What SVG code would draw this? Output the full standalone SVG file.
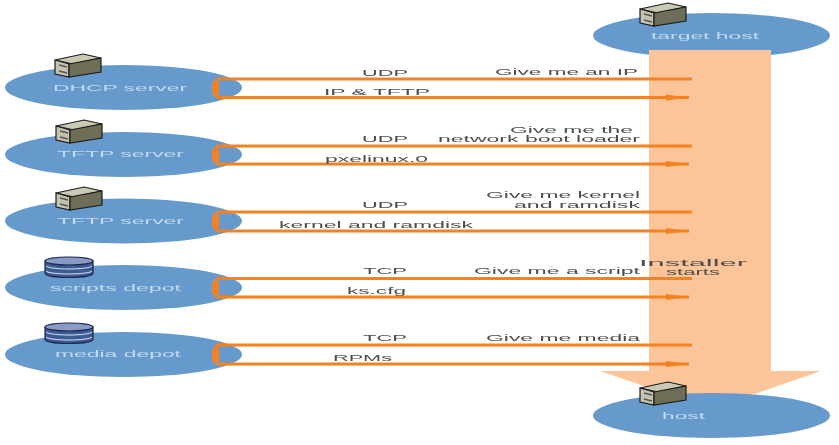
<svg xmlns="http://www.w3.org/2000/svg" width="839" height="445" viewBox="0 0 839 445">
<style>
text{font-family:"Liberation Sans",Arial,sans-serif;font-size:9.5px}
.e{fill:#6699cc}
.n{fill:#c3d9f0}
.l{fill:#4d4d4d}
.c{fill:none;stroke:#f58220;stroke-width:3}
.b{fill:none;stroke:#f58220;stroke-width:3;stroke-linejoin:round}
.t{fill:none;stroke:#f58220;stroke-width:7}
</style>
<defs>
<filter id="s" x="-5%" y="-5%" width="110%" height="110%"><feGaussianBlur stdDeviation="0.45"/></filter>
<marker id="a" markerUnits="userSpaceOnUse" markerWidth="24" markerHeight="8" refX="23" refY="4" orient="auto"><path d="M0 1L23 4L0 7z" fill="#f58220"/></marker>
<g id="srv">
<path d="M0 6L28 0L46 4L18 10z" fill="#c9c9b4" stroke="#1c1c1c" stroke-width="1.2"/>
<path d="M0 6L14 10V23L0 20z" fill="#c4c4ae" stroke="#1c1c1c" stroke-width="1.2"/>
<path d="M14 10L46 4V18L14 23z" fill="#6e6e58" stroke="#1c1c1c" stroke-width="1.2"/>
<path d="M4 11L12 13M4 17L12 19" stroke="#555" stroke-width="1.5"/>
</g>
<g id="db">
<path d="M0 4V16C0 22 48 22 48 16V4z" fill="#3d5a94" stroke="#1b2a4e" stroke-width="1.2"/>
<ellipse cx="24" cy="4" rx="24" ry="4" fill="#8b99c6" stroke="#1b2a4e" stroke-width="1.2"/>
<path d="M1 9C5 13 43 13 47 9M1 14C5 18 43 18 47 14" fill="none" stroke="#dde4f4" stroke-width="1"/>
</g>
</defs>
<g filter="url(#s)">
<g id="target-host">
<ellipse class="e" cx="711.500" cy="35.500" rx="118.500" ry="22.500"/>
<use href="#srv" x="640" y="3"/>
<text class="n" x="651" y="39" textLength="108" lengthAdjust="spacingAndGlyphs">target host</text>
</g>
<g id="installer-arrow">
<path d="M649 50H771V371H821L711 409L600 371H649z" fill="#fcc499"/>
<text class="l" x="639" y="266" textLength="108" lengthAdjust="spacingAndGlyphs">Installer</text>
<text class="l" x="666" y="275" textLength="54" lengthAdjust="spacingAndGlyphs">starts</text>
</g>
<g id="host">
<ellipse class="e" cx="711.500" cy="415.500" rx="118.500" ry="22.500"/>
<use href="#srv" x="640" y="382"/>
<text class="n" x="662" y="419" textLength="43" lengthAdjust="spacingAndGlyphs">host</text>
</g>
<g id="dhcp-server">
<ellipse class="e" cx="123.500" cy="87.500" rx="118.500" ry="22.500"/>
<use href="#srv" x="55" y="54"/>
<text class="n" x="53" y="91" textLength="134" lengthAdjust="spacingAndGlyphs">DHCP server</text>
</g>
<g id="tftp-server-1">
<ellipse class="e" cx="123.500" cy="154.500" rx="118.500" ry="22.500"/>
<use href="#srv" x="56" y="120"/>
<text class="n" x="57" y="157" textLength="127" lengthAdjust="spacingAndGlyphs">TFTP server</text>
</g>
<g id="tftp-server-2">
<ellipse class="e" cx="123.500" cy="221" rx="118.500" ry="22.500"/>
<use href="#srv" x="56" y="187"/>
<text class="n" x="57" y="224" textLength="127" lengthAdjust="spacingAndGlyphs">TFTP server</text>
</g>
<g id="scripts-depot">
<ellipse class="e" cx="123.500" cy="287.500" rx="118.500" ry="22.500"/>
<use href="#db" x="45" y="257"/>
<text class="n" x="50" y="291" textLength="131" lengthAdjust="spacingAndGlyphs">scripts depot</text>
</g>
<g id="media-depot">
<ellipse class="e" cx="123.500" cy="354.500" rx="118.500" ry="22.500"/>
<use href="#db" x="45" y="323"/>
<text class="n" x="55" y="357" textLength="126" lengthAdjust="spacingAndGlyphs">media depot</text>
</g>
<g id="connectors">
<path class="c" d="M222 79H692"/><path class="c" d="M222 97.500H689" marker-end="url(#a)"/><path class="b" d="M224 79H219Q216 79 216 82V94.500Q216 97.500 219 97.500H224"/><path class="t" d="M215.500 82V94.500"/>
<path class="c" d="M222 146H692"/><path class="c" d="M222 164H689" marker-end="url(#a)"/><path class="b" d="M224 146H219Q216 146 216 149V161Q216 164 219 164H224"/><path class="t" d="M215.500 149V161"/>
<path class="c" d="M222 212H692"/><path class="c" d="M222 231H689" marker-end="url(#a)"/><path class="b" d="M224 212H219Q216 212 216 215V228Q216 231 219 231H224"/><path class="t" d="M215.500 215V228"/>
<path class="c" d="M222 278.500H692"/><path class="c" d="M222 297H689" marker-end="url(#a)"/><path class="b" d="M224 278.500H219Q216 278.500 216 281.500V294Q216 297 219 297H224"/><path class="t" d="M215.500 281.500V294"/>
<path class="c" d="M222 345H692"/><path class="c" d="M222 364H689" marker-end="url(#a)"/><path class="b" d="M224 345H219Q216 345 216 348V361Q216 364 219 364H224"/><path class="t" d="M215.500 348V361"/>
</g>
<g id="labels">
<text class="l" x="362" y="76" textLength="46" lengthAdjust="spacingAndGlyphs">UDP</text>
<text class="l" x="495" y="75" textLength="143" lengthAdjust="spacingAndGlyphs">Give me an IP</text>
<text class="l" x="324" y="95" textLength="106" lengthAdjust="spacingAndGlyphs">IP &amp; TFTP</text>
<text class="l" x="362" y="142" textLength="46" lengthAdjust="spacingAndGlyphs">UDP</text>
<text class="l" x="510" y="132.500" textLength="123" lengthAdjust="spacingAndGlyphs">Give me the</text>
<text class="l" x="438" y="142" textLength="202" lengthAdjust="spacingAndGlyphs">network boot loader</text>
<text class="l" x="325" y="162" textLength="103" lengthAdjust="spacingAndGlyphs">pxelinux.0</text>
<text class="l" x="362" y="208" textLength="46" lengthAdjust="spacingAndGlyphs">UDP</text>
<text class="l" x="486" y="198" textLength="154" lengthAdjust="spacingAndGlyphs">Give me kernel</text>
<text class="l" x="514" y="207.500" textLength="126" lengthAdjust="spacingAndGlyphs">and ramdisk</text>
<text class="l" x="279" y="228" textLength="194" lengthAdjust="spacingAndGlyphs">kernel and ramdisk</text>
<text class="l" x="363" y="274" textLength="44" lengthAdjust="spacingAndGlyphs">TCP</text>
<text class="l" x="474" y="274" textLength="166" lengthAdjust="spacingAndGlyphs">Give me a script</text>
<text class="l" x="347" y="294" textLength="59" lengthAdjust="spacingAndGlyphs">ks.cfg</text>
<text class="l" x="363" y="341" textLength="44" lengthAdjust="spacingAndGlyphs">TCP</text>
<text class="l" x="486" y="341" textLength="154" lengthAdjust="spacingAndGlyphs">Give me media</text>
<text class="l" x="333" y="361" textLength="59" lengthAdjust="spacingAndGlyphs">RPMs</text>
</g>
</g>
</svg>
